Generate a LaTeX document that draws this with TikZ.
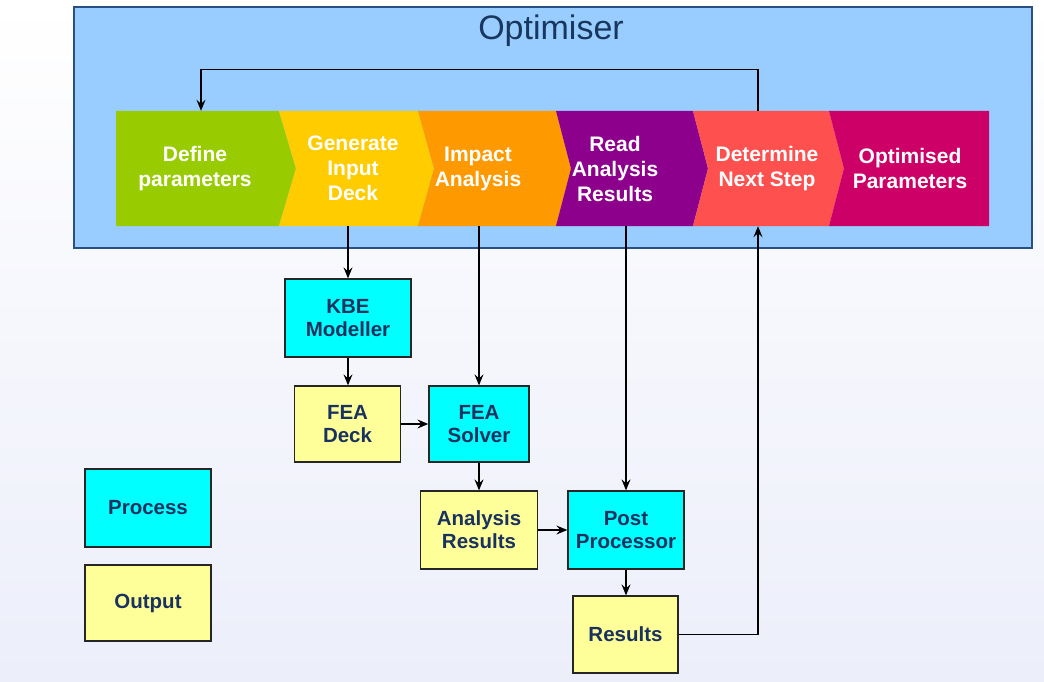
\documentclass[tikz,border=0pt]{standalone}
\usepackage{fontspec}
\setmainfont{Liberation Sans}
\usetikzlibrary{arrows.meta}
\definecolor{optfill}{RGB}{153,204,255}
\definecolor{optline}{RGB}{40,80,130}
\definecolor{titlecol}{RGB}{23,55,94}
\definecolor{boxtext}{RGB}{25,50,95}
\definecolor{cgreen}{RGB}{153,204,0}
\definecolor{cyellow}{RGB}{255,204,0}
\definecolor{corange}{RGB}{255,153,0}
\definecolor{cpurple}{RGB}{140,0,140}
\definecolor{cred}{RGB}{255,80,80}
\definecolor{cmagenta}{RGB}{204,0,102}
\definecolor{proccol}{RGB}{0,255,255}
\definecolor{outcol}{RGB}{255,255,153}
\definecolor{bglow}{RGB}{236,238,250}
\begin{document}
\begin{tikzpicture}[x=1pt,y=-1pt,
  arr/.style={draw=black,line width=1.3pt,-{Stealth[length=11pt,width=9pt,inset=4pt]}},
  chevtext/.style={text=white,font=\fontsize{21}{25}\selectfont\bfseries,align=center,minimum height=115pt,inner sep=0pt},
  boxbase/.style={draw=black!85,line width=1.3pt,text=boxtext,font=\fontsize{20.5}{23}\selectfont\bfseries,align=center,inner sep=0pt},
  procbox/.style={boxbase,fill=proccol},
  outbox/.style={boxbase,fill=outcol}]
% background
\shade[top color=white,bottom color=bglow] (0,0) rectangle (1044,682);
\useasboundingbox (0,0) rectangle (1044,682);
% optimiser frame
\node[draw=optline,line width=1.5pt,fill=optfill,minimum width=958pt,minimum height=241pt,inner sep=0pt] (opt) at (553,127.5) {};
\node[text=titlecol,font=\fontsize{34}{40}\selectfont] (title) at (551,31) {Optimiser};
% chevrons
\fill[cgreen] (116,111) -- (279,111) -- (296,168.5) -- (279,226) -- (116,226) -- cycle;
\fill[cyellow] (279,111) -- (418,111) -- (434,168.5) -- (418,226) -- (279,226) -- (296,168.5) -- cycle;
\fill[corange] (418,111) -- (556,111) -- (571,168.5) -- (556,226) -- (418,226) -- (434,168.5) -- cycle;
\fill[cpurple] (556,111) -- (693,111) -- (708,168.5) -- (693,226) -- (556,226) -- (571,168.5) -- cycle;
\fill[cred] (693,111) -- (829,111) -- (844,168.5) -- (829,226) -- (693,226) -- (708,168.5) -- cycle;
\fill[cmagenta] (829,111) -- (989,111) -- (989,226) -- (829,226) -- (844,168.5) -- cycle;
\node[chevtext] (def) at (195,168.5) {Define\\parameters};
\node[chevtext] (gen) at (353,168.5) {Generate\\Input\\Deck};
\node[chevtext] (imp) at (478,168.5) {Impact\\Analysis};
\node[chevtext] (read) at (615,168.5) {Read\\Analysis\\Results};
\node[chevtext] (det) at (767,168.5) {Determine\\Next Step};
\node[chevtext] (optp) at (910,168.5) {Optimised\\Parameters};
% boxes
\node[procbox,minimum width=126pt,minimum height=78pt] (kbe) at (348,318) {KBE\\Modeller};
\node[outbox,minimum width=106pt,minimum height=76pt] (fdeck) at (347.5,424) {FEA\\Deck};
\node[procbox,minimum width=100pt,minimum height=76pt] (fsolver) at (479,424) {FEA\\Solver};
\node[outbox,minimum width=117pt,minimum height=78pt] (ares) at (479,530) {Analysis\\Results};
\node[procbox,minimum width=116pt,minimum height=78pt] (post) at (626,530) {Post\\Processor};
\node[outbox,minimum width=105pt,minimum height=77pt] (res) at (625.5,634.5) {Results};
\node[procbox,minimum width=126pt,minimum height=78pt] (proc) at (148,508) {Process};
\node[outbox,minimum width=126pt,minimum height=76pt] (outp) at (148,603) {Output};
% connectors
\draw[arr] ([xshift=-9pt]det.north) -- ++(0,-41) -| ([xshift=6pt]def.north);
\draw[arr] (kbe.north |- gen.south) -- (kbe.north);
\draw[arr] (fsolver.north |- imp.south) -- (fsolver.north);
\draw[arr] (post.north |- read.south) -- (post.north);
\draw[arr] (kbe.south) -- (fdeck.north -| kbe.south);
\draw[arr] (fdeck.east) -- (fsolver.west);
\draw[arr] (fsolver.south) -- (ares.north);
\draw[arr] (ares.east) -- (post.west);
\draw[arr] (post.south) -- (res.north -| post.south);
\draw[arr] (res.east) -| ([xshift=-9pt]det.south);
\end{tikzpicture}
\end{document}
